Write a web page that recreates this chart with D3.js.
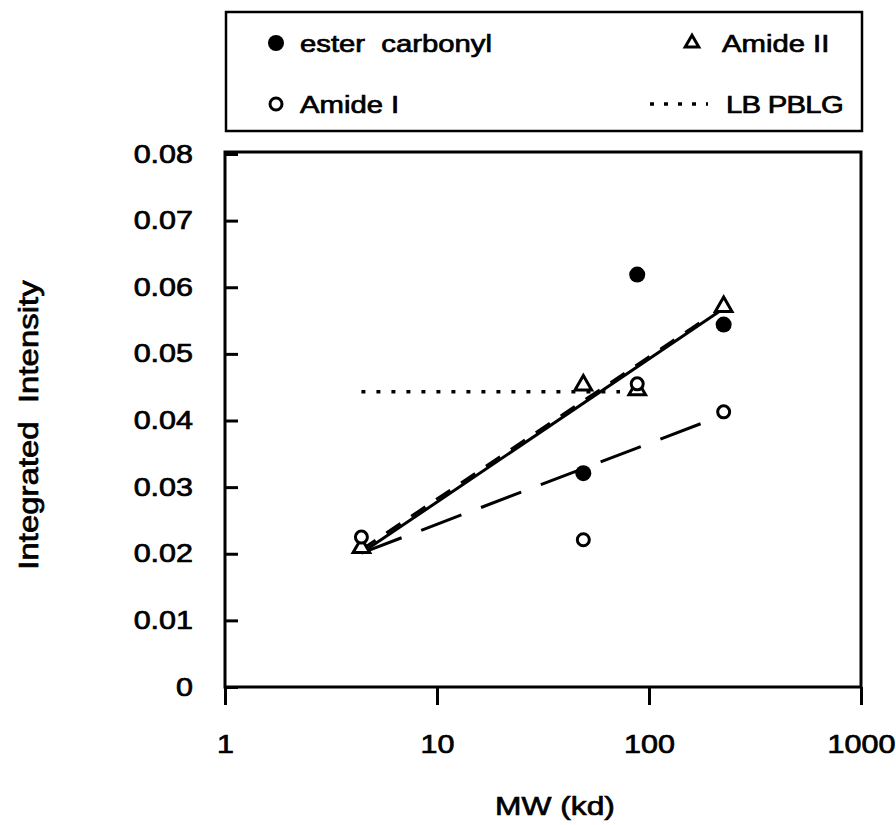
<!DOCTYPE html>
<html>
<head>
<meta charset="utf-8">
<script src="https://cdn.jsdelivr.net/npm/d3@7"></script>
<style>
  body { margin: 0; background: #fff; }
  svg text { font-family: "Liberation Sans", Arial, Helvetica, sans-serif; fill: #000; stroke: #000; stroke-width: 0.7px; }
</style>
</head>
<body>
<svg width="896" height="825"></svg>
<script>
// data
var mw = [4.4, 49, 88, 225];
var esterCarbonyl = [null, 0.0321, 0.0619, 0.0544];
var amideI = [0.0225, 0.0221, 0.0455, 0.0413];
var amideII = [0.0209, 0.0453, 0.0446, 0.0571];

// fitted lines, [mw, intensity]
var fitSolid = [[4.4, 0.0201], [225, 0.0568]];
var fitShortDash = [[4.4, 0.0206], [190, 0.0555]];
var fitLongDash = [[4.4, 0.0201], [185, 0.0398]];
var lbPBLG = [[4.4, 0.0443], [73, 0.0443]];

var xTicks = [1, 10, 100, 1000];
var xTickLabels = ["1", "10", "100", "1000"];
var yTicks = [0, 0.01, 0.02, 0.03, 0.04, 0.05, 0.06, 0.07, 0.08];
var yTickLabels = ["0", "0.01", "0.02", "0.03", "0.04", "0.05", "0.06", "0.07", "0.08"];

var legendRows = [
  { label: "ester  carbonyl", mark: "filled", col: 0, row: 0 },
  { label: "Amide I", mark: "open", col: 0, row: 1 },
  { label: "Amide II", mark: "triangle", col: 1, row: 0 },
  { label: "LB PBLG", mark: "dots", col: 1, row: 1 }
];

var sx = 1.22; // the scanned type is wider than it is tall
var plotLeft = 225, plotRight = 861, plotTop = 152, plotBottom = 687;

var svg = d3.select("svg");

var x = d3.scaleLog().domain([1, 1000]).range([plotLeft, plotRight]);
var y = d3.scaleLinear().domain([0, 0.08]).range([plotBottom, 154]);

// frame
svg.append("rect")
  .attr("x", plotLeft).attr("y", plotTop)
  .attr("width", plotRight - plotLeft).attr("height", plotBottom - plotTop)
  .attr("fill", "none").attr("stroke", "#000").attr("stroke-width", 3);

// y axis, ticks pointing in
var yAxis = svg.append("g")
  .attr("transform", "translate(" + plotLeft + ",0)")
  .call(d3.axisLeft(y).tickValues(yTicks)
    .tickFormat(function(d, i) { return yTickLabels[i]; })
    .tickSize(-13).tickPadding(32 / sx));
yAxis.select(".domain").remove();
yAxis.selectAll("line").attr("stroke", "#000").attr("stroke-width", 3);
yAxis.selectAll("text")
  .attr("transform", "scale(" + sx + ",1)")
  .style("font-size", "25px");

// x axis, ticks pointing out
var xAxis = svg.append("g")
  .attr("transform", "translate(0," + plotBottom + ")")
  .call(d3.axisBottom(x).tickValues(xTicks)
    .tickFormat(function(d, i) { return xTickLabels[i]; })
    .tickSize(18).tickSizeOuter(0).tickPadding(30));
xAxis.select(".domain").remove();
xAxis.selectAll("line").attr("stroke", "#000").attr("stroke-width", 3);
xAxis.selectAll("text")
  .attr("transform", "scale(" + sx + ",1)")
  .style("font-size", "25px");

// axis titles
svg.append("g")
  .attr("transform", "translate(555,815)")
  .append("text")
  .attr("transform", "scale(" + sx + ",1)")
  .attr("text-anchor", "middle")
  .style("font-size", "26px")
  .text("MW (kd)");

svg.append("g")
  .attr("transform", "translate(38,425) rotate(-90)")
  .append("text")
  .attr("transform", "scale(" + sx + ",1)")
  .attr("text-anchor", "middle")
  .style("font-size", "27px")
  .style("white-space", "pre")
  .text("Integrated  Intensity");

// lines
var line = d3.line()
  .x(function(d) { return x(d[0]); })
  .y(function(d) { return y(d[1]); });

svg.append("path").datum(lbPBLG)
  .attr("d", line).attr("fill", "none").attr("stroke", "#000")
  .attr("stroke-width", 3.5).attr("stroke-dasharray", "4,11");
svg.append("path").datum(fitLongDash)
  .attr("d", line).attr("fill", "none").attr("stroke", "#000")
  .attr("stroke-width", 3).attr("stroke-dasharray", "43,21");
svg.append("path").datum(fitShortDash)
  .attr("d", line).attr("fill", "none").attr("stroke", "#000")
  .attr("stroke-width", 3).attr("stroke-dasharray", "17,13");
svg.append("path").datum(fitSolid)
  .attr("d", line).attr("fill", "none").attr("stroke", "#000")
  .attr("stroke-width", 3);

// markers
var tri = d3.symbol().type(d3.symbolTriangle).size(120);

function pts(vals) {
  return mw.map(function(m, i) { return { x: m, v: vals[i] }; })
    .filter(function(d) { return d.v != null; });
}

svg.append("g").selectAll("path")
  .data(pts(amideII))
  .enter().append("path")
  .attr("d", tri)
  .attr("transform", function(d) { return "translate(" + x(d.x) + "," + y(d.v) + ")"; })
  .attr("fill", "#fff").attr("stroke", "#000").attr("stroke-width", 3);

svg.append("g").selectAll("circle")
  .data(pts(amideI))
  .enter().append("circle")
  .attr("cx", function(d) { return x(d.x); })
  .attr("cy", function(d) { return y(d.v); })
  .attr("r", 6)
  .attr("fill", "#fff").attr("stroke", "#000").attr("stroke-width", 3);

svg.append("g").selectAll("circle")
  .data(pts(esterCarbonyl))
  .enter().append("circle")
  .attr("cx", function(d) { return x(d.x); })
  .attr("cy", function(d) { return y(d.v); })
  .attr("r", 8)
  .attr("fill", "#000");

// legend
svg.append("rect")
  .attr("x", 226).attr("y", 12)
  .attr("width", 636).attr("height", 119)
  .attr("fill", "none").attr("stroke", "#000").attr("stroke-width", 2.5);

var colX = [276, 692];
var textX = [300, 722];
var rowY = [43, 104];

var legend = svg.append("g").attr("class", "legend");
legendRows.forEach(function(el) {
  var mx = colX[el.col], my = rowY[el.row];
  if (el.mark === "filled") {
    legend.append("circle").attr("cx", mx).attr("cy", my).attr("r", 8).attr("fill", "#000");
  } else if (el.mark === "open") {
    legend.append("circle").attr("cx", mx).attr("cy", my).attr("r", 6)
      .attr("fill", "#fff").attr("stroke", "#000").attr("stroke-width", 3);
  } else if (el.mark === "triangle") {
    legend.append("path").attr("d", d3.symbol().type(d3.symbolTriangle).size(80))
      .attr("transform", "translate(" + mx + "," + my + ")")
      .attr("fill", "#fff").attr("stroke", "#000").attr("stroke-width", 3);
  } else {
    legend.append("line")
      .attr("x1", 650).attr("x2", 708).attr("y1", my).attr("y2", my)
      .attr("stroke", "#000").attr("stroke-width", 3.5).attr("stroke-dasharray", "4,10");
  }
  legend.append("g")
    .attr("transform", "translate(" + (textX[el.col] + (el.mark === "dots" ? 4 : 0)) + "," + (my + 9) + ")")
    .append("text")
    .attr("transform", "scale(" + sx + ",1)")
    .style("font-size", "24px")
    .style("white-space", "pre")
    .style("letter-spacing", el.mark === "dots" ? "-0.6px" : null)
    .text(el.label);
});
</script>
</body>
</html>
